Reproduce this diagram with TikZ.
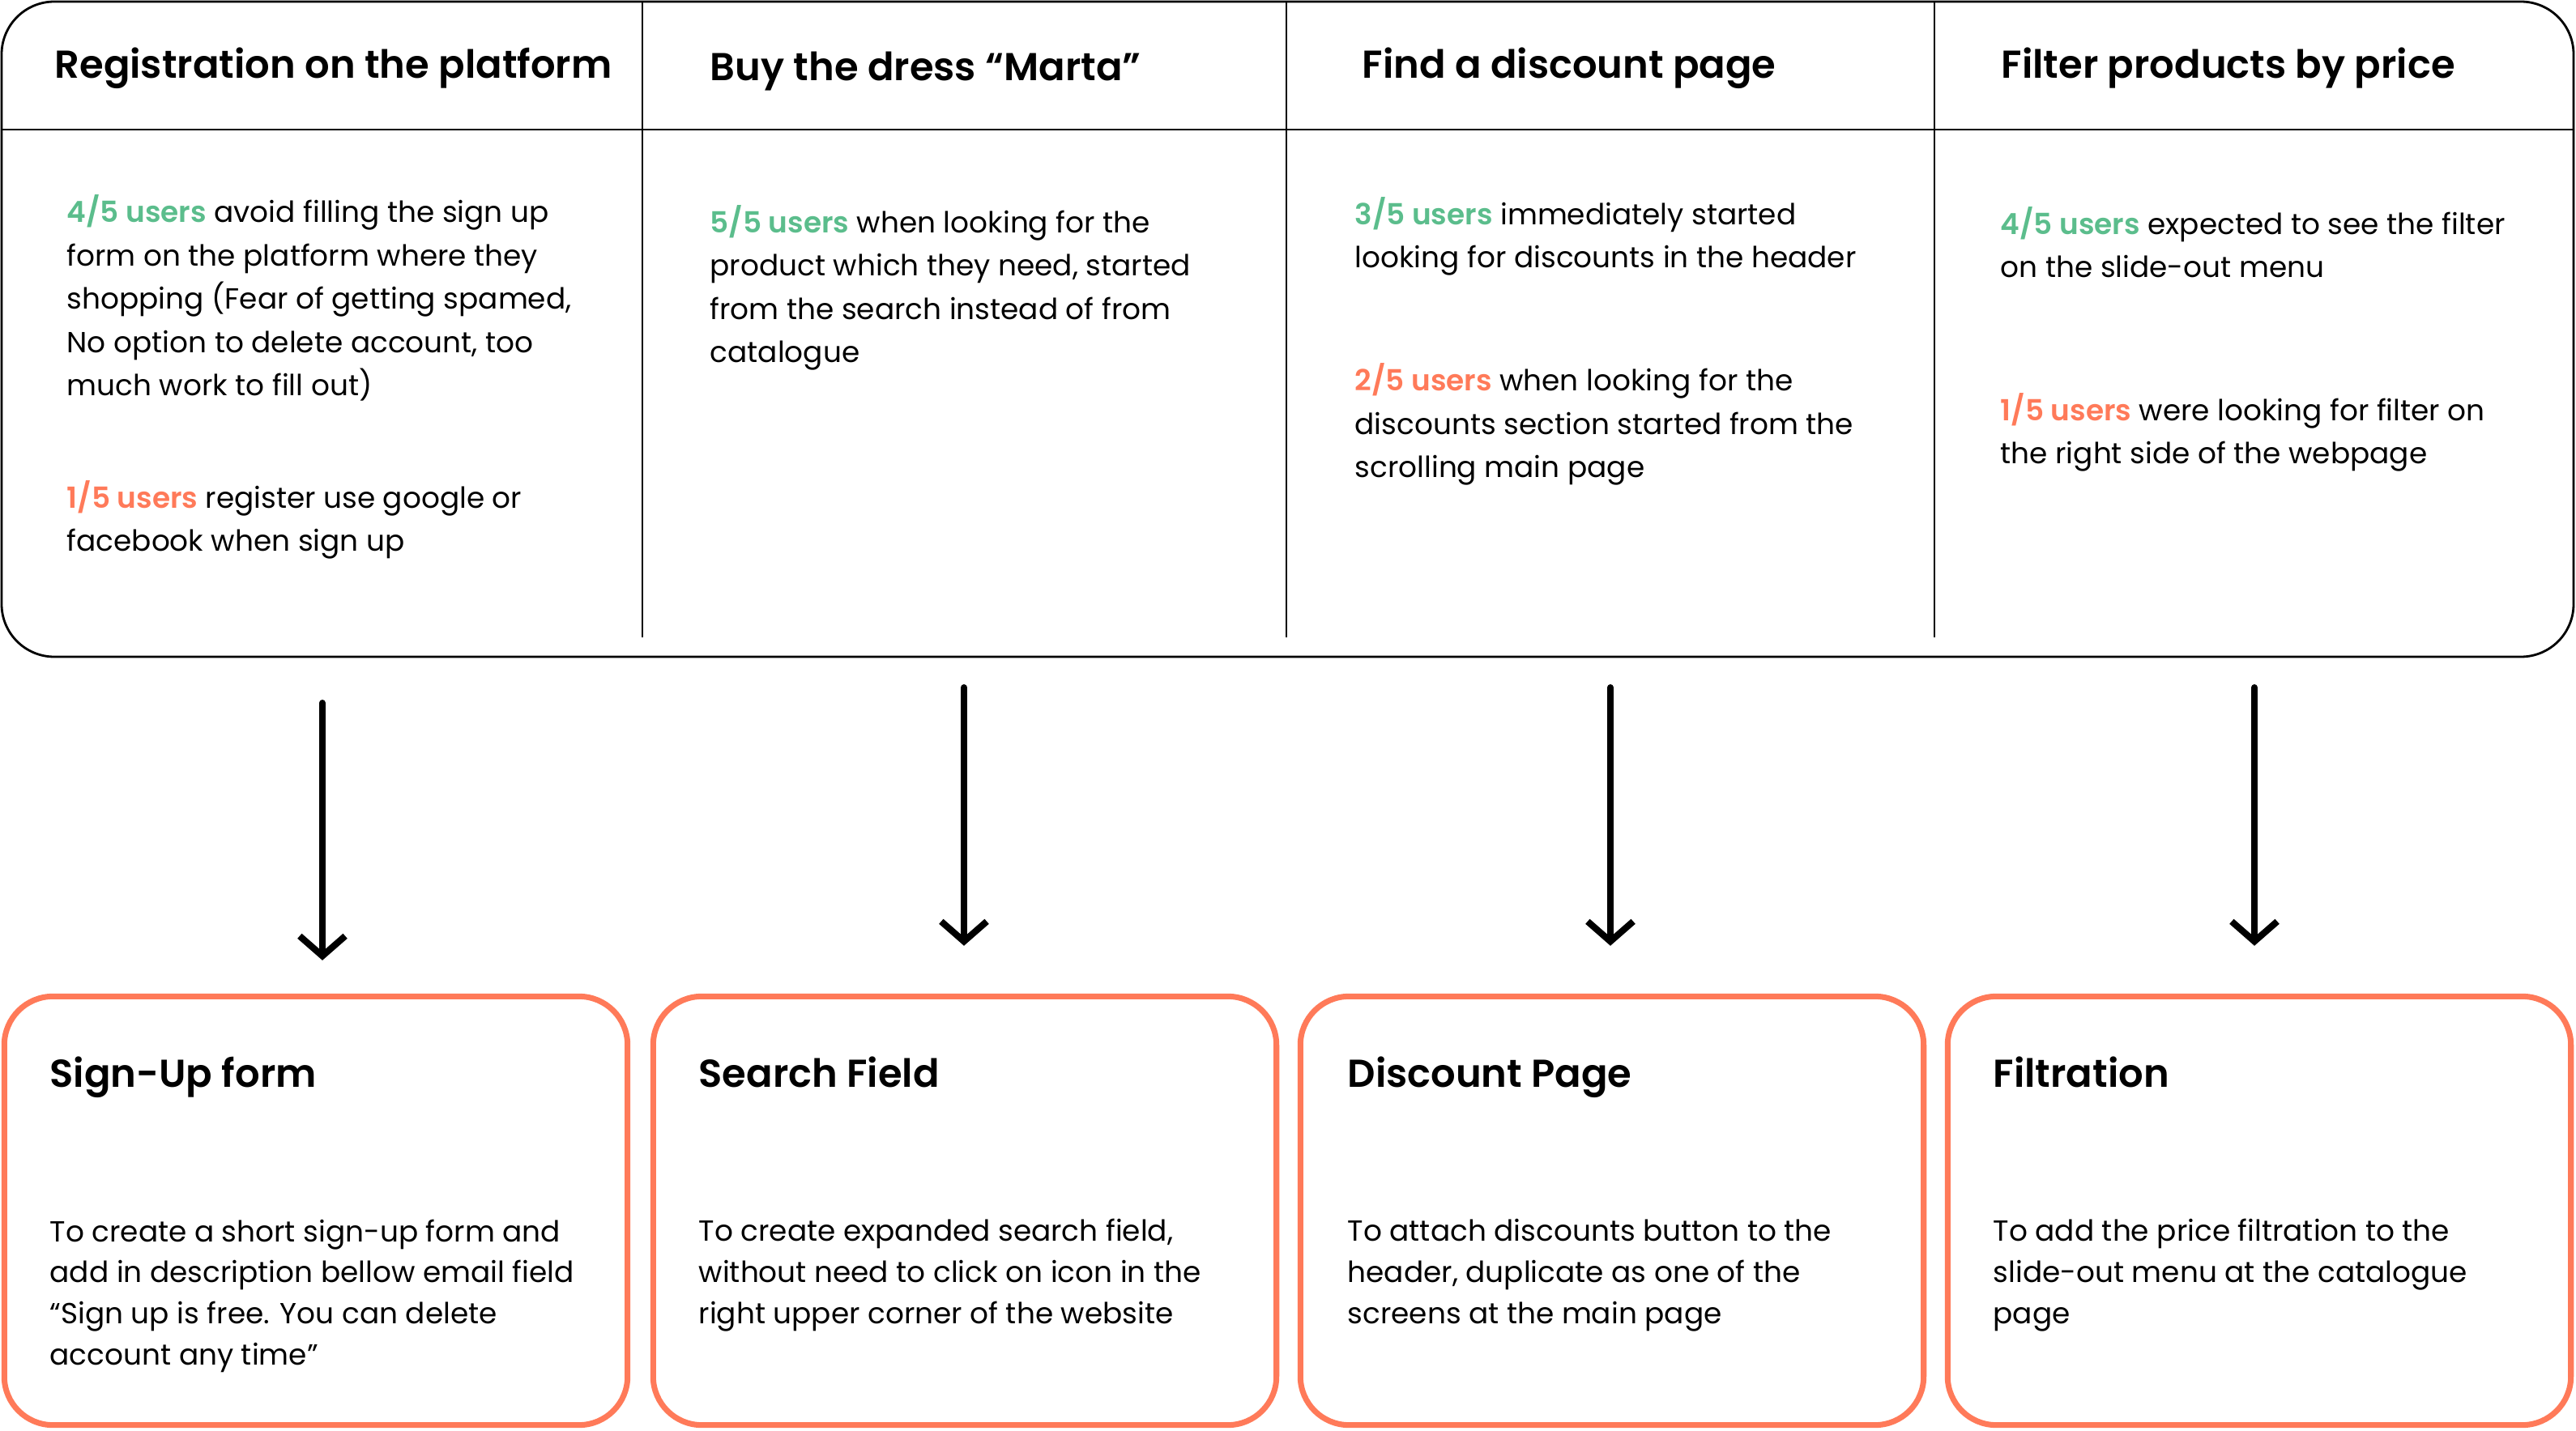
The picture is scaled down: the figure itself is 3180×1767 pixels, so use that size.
\documentclass[tikz,border=0pt]{standalone}
\usepackage{fontspec}
\setmainfont{Poppins}[BoldFont={Poppins SemiBold}]
\usetikzlibrary{arrows.meta}
\definecolor{mint}{HTML}{5BBD8C}
\definecolor{coral}{HTML}{FF7A59}
\newcommand{\good}[1]{\textcolor{mint}{\bfseries #1}}
\newcommand{\bad}[1]{\textcolor{coral}{\bfseries #1}}
\tikzset{
	head/.style={anchor=base west, inner sep=0pt, font=\bfseries\fontsize{13.65}{17}\selectfont},
	note/.style={anchor=base west, inner sep=0pt, align=left, font=\fontsize{10.2}{15.25}\selectfont},
	idea/.style={anchor=base west, inner sep=0pt, align=left, font=\fontsize{10.2}{14.4}\selectfont},
	col/.style={minimum width=7.9cm, minimum height=8.1cm, inner sep=0pt},
	fix/.style={draw=coral, line width=2pt, rounded corners=0.6cm, minimum width=7.69cm, minimum height=5.29cm},
	flow/.style={-{Straight Barb[length=7pt,width=16pt]}, line width=2.3pt, line cap=round, line join=round},
}
\begin{document}
\begin{tikzpicture}[x=0.01cm, y=-0.01cm]
			\useasboundingbox (0,0) rectangle (3180,1767);
			\draw [line width=0.8pt, rounded corners=0.65cm] (2,2) rectangle (3177,811);
			\draw [line width=0.8pt] (2,160) -- (3177,160);
			\draw [line width=0.6pt] (793,2) -- (793,787) (1588,2) -- (1588,787) (2388,2) -- (2388,787);

			\node (colA)[col] at (398,406) {};
			\node (colB)[col] at (1190,406) {};
			\node (colC)[col] at (1988,406) {};
			\node (colD)[col] at (2783,406) {};

			% headings sit on their baseline, notes on their last line
			\node (headA)[head] at (67,97) {Registration on the platform};
			\node (headB)[head] at (876,100) {Buy the dress “Marta”};
			\node (headC)[head] at (1681,97) {Find a discount page};
			\node (headD)[head] at (2470,97) {Filter products by price};

			\node (noteA1)[note] at (82,489) {\good{4/5 users} avoid filling the sign up\\form on the platform where they\\shopping (Fear of getting spamed,\\No option to delete account, too\\much work to fill out)};
			\node (noteA2)[note] at (82,681) {\bad{1/5 users} register use google or\\facebook when sign up};
			\node (noteB1)[note] at (876,448) {\good{5/5 users} when looking for the\\product which they need, started\\from the search instead of from\\catalogue};
			\node (noteC1)[note] at (1672,331) {\good{3/5 users} immediately started\\looking for discounts in the header};
			\node (noteC2)[note] at (1672,590) {\bad{2/5 users} when looking for the\\discounts section started from the\\scrolling main page};
			\node (noteD1)[note] at (2469,343) {\good{4/5 users} expected to see the filter\\on the slide-out menu};
			\node (noteD2)[note] at (2469,573) {\bad{1/5 users} were looking for filter on\\the right side of the webpage};

			\node (boxA)[fix] at (390,1495) {};
			\node (boxB)[fix] at (1191,1495) {};
			\node (boxC)[fix] at (1990,1495) {};
			\node (boxD)[fix] at (2789,1495) {};

			\node (titleA)[head] at (61,1342) {Sign-Up form};
			\node (titleB)[head] at (862,1342) {Search Field};
			\node (titleC)[head] at (1663,1342) {Discount Page};
			\node (titleD)[head] at (2460,1342) {Filtration};

			\node (ideaA)[idea] at (61,1685) {To create a short sign-up form and\\add in description bellow email field\\“Sign up is free. You can delete\\account any time”};
			\node (ideaB)[idea] at (862,1634) {To create expanded search field,\\without need to click on icon in the\\right upper corner of the website};
			\node (ideaC)[idea] at (1663,1634) {To attach discounts button to the\\header, duplicate as one of the\\screens at the main page};
			\node (ideaD)[idea] at (2460,1634) {To add the price filtration to the\\slide-out menu at the catalogue\\page};

			\draw [flow, shorten <=0.56cm, shorten >=0.41cm] (colA.south) -- (colA.south |- boxA.north);
			\draw [flow, shorten <=0.37cm, shorten >=0.59cm] (colB.south) -- (colB.south |- boxB.north);
			\draw [flow, shorten <=0.37cm, shorten >=0.59cm] (colC.south) -- (colC.south |- boxC.north);
			\draw [flow, shorten <=0.37cm, shorten >=0.59cm] (colD.south) -- (colD.south |- boxD.north);
		\end{tikzpicture}
\end{document}
